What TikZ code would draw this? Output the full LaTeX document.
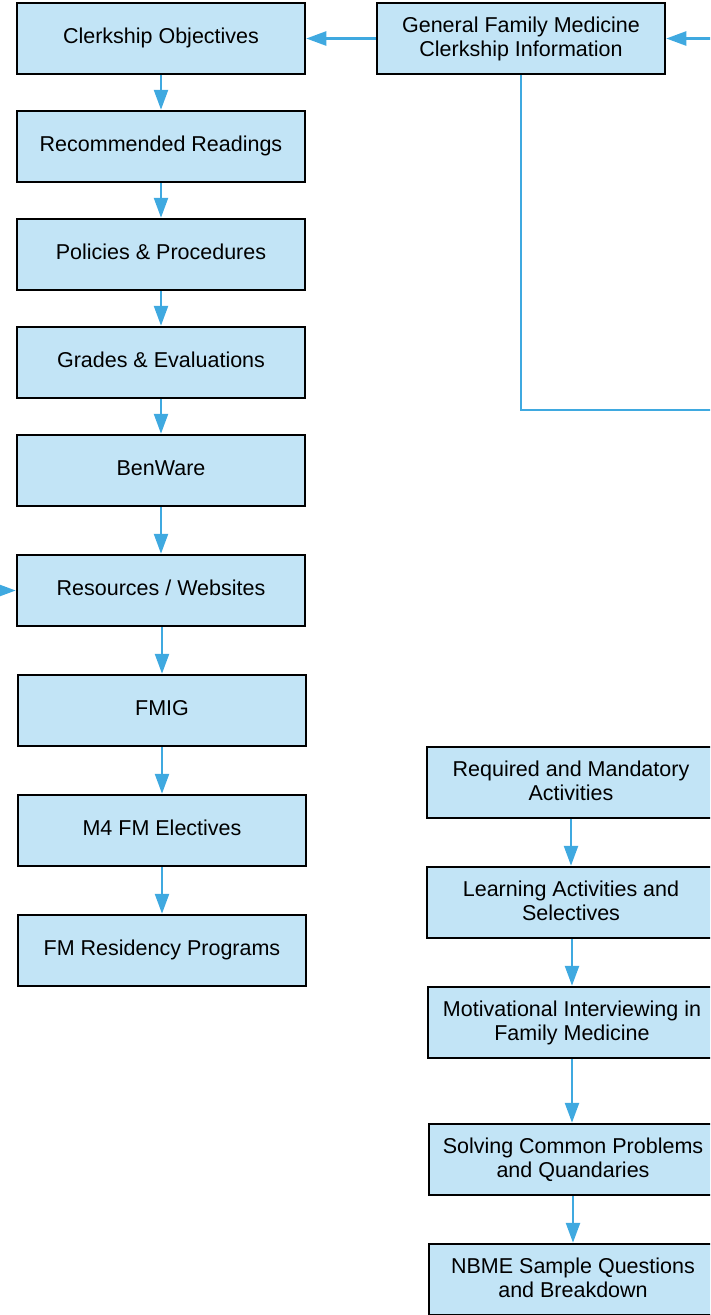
\documentclass[tikz,border=0pt]{standalone}
\usepackage{fontspec}
\setmainfont{Liberation Sans}
\usetikzlibrary{arrows.meta}
\definecolor{boxfill}{HTML}{C2E4F6}
\definecolor{arrowblue}{HTML}{3FA9E0}
\tikzset{
  stepbox/.style={draw=black, line width=2.5pt, fill=boxfill, minimum width=288pt, minimum height=71pt,
    inner sep=0pt, align=center, font=\fontsize{21.5}{24.3}\selectfont,
    text height=15.5pt, text depth=5.5pt},
  twobox/.style={stepbox, text height=39.8pt, text depth=2.9pt},
  conn/.style={draw=arrowblue, line width=2.5pt, -{Triangle[length=20pt,width=14pt]}},
  plainconn/.style={draw=arrowblue, line width=2.5pt}
}
\begin{document}
\begin{tikzpicture}[x=1pt,y=-1pt]
\useasboundingbox (0,0) rectangle (710,1315);
\clip (0,0) rectangle (710,1315);
% left column
\node[stepbox] (co) at (161,38.5) {Clerkship Objectives};
\node[stepbox] (rr) at (161,146.5) {Recommended Readings};
\node[stepbox] (pp) at (161,254.5) {Policies \& Procedures};
\node[stepbox] (ge) at (161,362.5) {Grades \& Evaluations};
\node[stepbox] (bw) at (161,470.5) {BenWare};
\node[stepbox] (rw) at (161,590.5) {Resources / Websites};
\node[stepbox] (fmig) at (162,710.5) {FMIG};
\node[stepbox] (m4) at (162,830.5) {M4 FM Electives};
\node[stepbox] (fmr) at (162,950.5) {FM Residency Programs};
% top
\node[twobox] (gfm) at (521,38.5) {General Family Medicine\\Clerkship Information};
% right column
\node[twobox] (req) at (571,782.5) {Required and Mandatory\\Activities};
\node[twobox] (la) at (571,902.5) {Learning Activities and\\Selectives};
\node[twobox] (mi) at (572,1022.5) {Motivational Interviewing in\\Family Medicine};
\node[twobox] (sc) at (573,1159.5) {Solving Common Problems\\and Quandaries};
\node[twobox] (nbme) at (573,1279.5) {NBME Sample Questions\\and Breakdown};
% off-picture ends
\coordinate (inR) at (730,38.5);
\coordinate (outR) at (730,410);
\coordinate (inL) at (-20,590.5);
% connectors
\draw[conn] (gfm.west) -- (co.east);
\draw[conn] (inR) -- (gfm.east);
\draw[plainconn] (gfm.south) |- (outR);
\draw[conn] (inL) -- (rw.west);
\draw[conn] (co.south) -- (rr.north);
\draw[conn] (rr.south) -- (pp.north);
\draw[conn] (pp.south) -- (ge.north);
\draw[conn] (ge.south) -- (bw.north);
\draw[conn] (bw.south) -- (rw.north);
\draw[conn] (fmig.north |- rw.south) -- (fmig.north);
\draw[conn] (fmig.south) -- (m4.north);
\draw[conn] (m4.south) -- (fmr.north);
\draw[conn] (req.south) -- (la.north);
\draw[conn] (mi.north |- la.south) -- (mi.north);
\draw[conn] (mi.south) -- (mi.south |- sc.north);
\draw[conn] (sc.south) -- (nbme.north);
\end{tikzpicture}
\end{document}
